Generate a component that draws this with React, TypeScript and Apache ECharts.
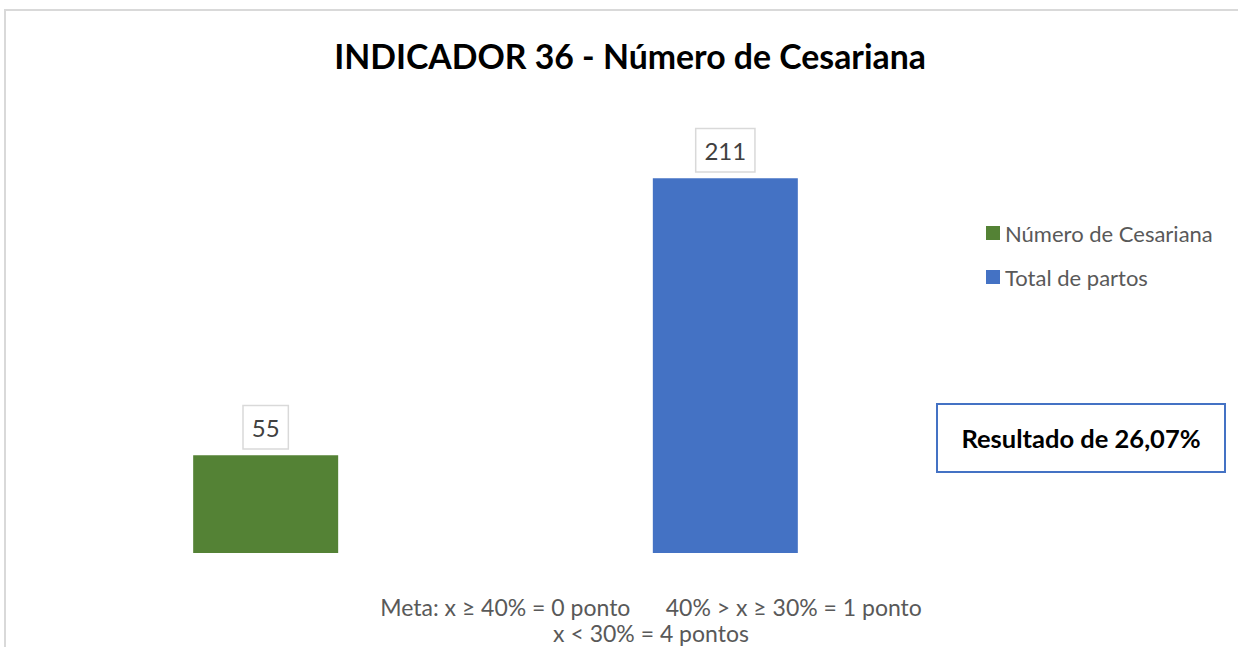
import React, { useEffect, useRef } from "react";
import * as echarts from "echarts";

const titleText = "INDICADOR 36 - Número de Cesariana";
const categories = ["Indicador 36"];
const seriesNames = ["Número de Cesariana", "Total de partos"];
const cesarianaValues = [55];
const totalPartosValues = [211];
const seriesColors = ["#548235", "#4472C4"];
const resultText = "Resultado de 26,07%";
const metaLines = [
  "Meta: x ≥ 40% = 0 ponto      40% > x ≥ 30% = 1 ponto",
  "x < 30% = 4 pontos",
];

const FONT = "Lato, 'Open Sans', sans-serif";

export default function App() {
  const ref = useRef<HTMLDivElement>(null);
  useEffect(() => {
    if (!ref.current) return;
    const chart = echarts.init(ref.current, null, { renderer: "svg" });
    const label = {
      show: true,
      position: "top",
      distance: 7,
      color: "#404040",
      fontFamily: FONT,
      fontSize: 24,
      lineHeight: 24,
      padding: [9, 8],
      borderColor: "#D9D9D9",
      borderWidth: 1.5,
      backgroundColor: "#FFFFFF",
    };
    chart.setOption({
      animation: false,
      backgroundColor: "#FFFFFF",
      title: [
        {
          text: titleText,
          left: 625,
          top: 34,
          textAlign: "center",
          textStyle: {
            fontFamily: FONT,
            fontWeight: "bold",
            fontSize: 33.8,
            color: "#000000",
          },
        },
      ],
      legend: {
        orient: "vertical",
        left: 986,
        top: 221,
        padding: 0,
        itemWidth: 14,
        itemHeight: 14,
        itemGap: 20,
        icon: "rect",
        data: seriesNames,
        textStyle: {
          fontFamily: FONT,
          fontSize: 22,
          lineHeight: 24,
          color: "#595959",
          padding: [0, 0, 0, 0],
        },
      },
      grid: { left: 100, right: 347, top: 109, bottom: 94 },
      xAxis: {
        type: "category",
        data: categories,
        show: false,
      },
      yAxis: {
        type: "value",
        min: 0,
        max: 250,
        show: false,
        splitLine: { show: false },
      },
      series: [
        {
          name: seriesNames[0],
          type: "bar",
          data: cesarianaValues,
          barWidth: 145,
          barGap: "217%",
          itemStyle: { color: seriesColors[0] },
          label,
        },
        {
          name: seriesNames[1],
          type: "bar",
          data: totalPartosValues,
          barWidth: 145,
          itemStyle: { color: seriesColors[1] },
          label,
        },
      ],
      graphic: [
        {
          type: "rect",
          shape: { x: 5, y: 10, width: 1300, height: 700 },
          style: { fill: "none", stroke: "#D9D9D9", lineWidth: 2 },
          silent: true,
        },
        {
          type: "rect",
          shape: { x: 937, y: 404, width: 288, height: 68 },
          style: { fill: "#FFFFFF", stroke: "#4472C4", lineWidth: 2 },
        },
        {
          type: "text",
          x: 1081,
          y: 438,
          style: {
            text: resultText,
            fontFamily: FONT,
            fontWeight: "bold",
            fontSize: 25.5,
            fill: "#000000",
            align: "center",
            verticalAlign: "middle",
          },
        },
        {
          type: "text",
          x: 651,
          y: 607,
          style: {
            text: metaLines[0],
            fontFamily: FONT,
            fontSize: 23,
            fill: "#595959",
            align: "center",
            verticalAlign: "middle",
          },
        },
        {
          type: "text",
          x: 651,
          y: 633,
          style: {
            text: metaLines[1],
            fontFamily: FONT,
            fontSize: 23,
            fill: "#595959",
            align: "center",
            verticalAlign: "middle",
          },
        },
      ],
    });
    return () => chart.dispose();
  }, []);
  return (
    <div
      ref={ref}
      style={{ position: "absolute", left: 0, top: 0, width: 1238, height: 647 }}
    />
  );
}
